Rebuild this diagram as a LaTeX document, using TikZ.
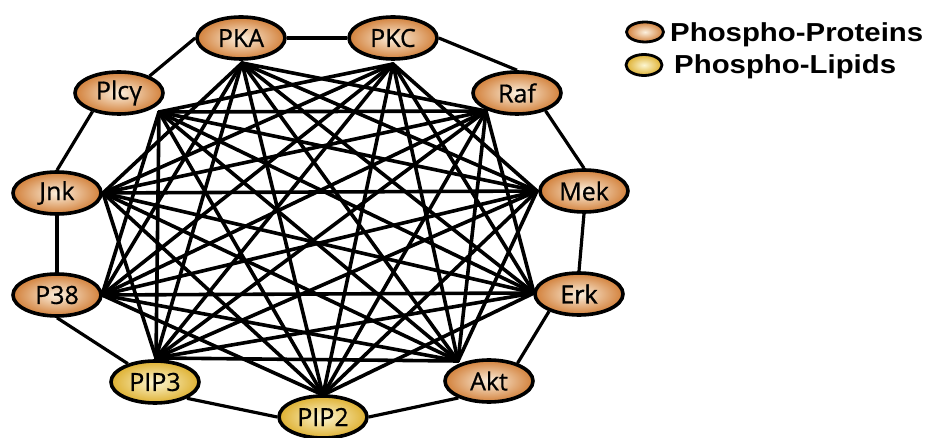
\documentclass[tikz,border=0pt]{standalone}
\usepackage{fontspec}
\usepackage{graphicx}
\usetikzlibrary{shapes.geometric}
\newfontfamily\nodefont[FakeBold=0.7]{Open Sans}
\newfontfamily\nodefontbold[FakeBold=1.6]{Open Sans}
\newfontfamily\legfont{Liberation Sans}
\definecolor{protOut}{RGB}{210,128,58}
\definecolor{protIn}{RGB}{252,240,222}
\definecolor{lipOut}{RGB}{222,176,48}
\definecolor{lipIn}{RGB}{252,246,210}
\pgfdeclarelayer{edges}
\pgfsetlayers{edges,main}
\tikzset{
  molnode/.style={ellipse, draw=black, line width=3.6pt, minimum width=88pt, minimum height=42pt,
    inner sep=0pt, font=\nodefont\fontsize{25}{27}\selectfont},
  prot/.style={molnode, inner color=protIn, outer color=protOut},
  lip/.style={molnode, inner color=lipIn, outer color=lipOut},
  legprot/.style={ellipse, draw=black, line width=2.8pt, minimum width=37pt, minimum height=20pt,
    inner sep=0pt, inner color=protIn, outer color=protOut},
  leglip/.style={ellipse, draw=black, line width=2.8pt, minimum width=36pt, minimum height=21pt,
    inner sep=0pt, inner color=lipIn, outer color=lipOut},
  legtext/.style={anchor=base west, inner sep=0pt, font=\legfont\bfseries\fontsize{26}{28}\selectfont},
  ring/.style={line width=3.2pt, black},
  inner/.style={line width=3.6pt, black, line cap=round},
}
\begin{document}
\begin{tikzpicture}[x=1pt,y=-1pt]
\useasboundingbox (0,0) rectangle (930,438);
% nodes
\node[prot] (pka) at (241,38) {PKA};
\node[prot] (pkc) at (393,38) {PKC};
\node[prot] (raf) at (517,93) {Raf};
\node[prot] (mek) at (584,191) {Mek};
\node[prot, font=\nodefontbold\fontsize{25}{27}\selectfont] (erk) at (579,294) {Erk};
\node[prot] (akt) at (489,381) {Akt};
\node[lip] (pip2) at (323,417) {PIP2};
\node[lip] (pip3) at (155,382) {PIP3};
\node[prot] (p38) at (57,295) {P38};
\node[prot] (jnk) at (57,193) {Jnk};
\node[prot] (plc) at (119,93) {Plcγ};
% hubs where the inner connectors meet
\coordinate (hpka) at (242,63);
\coordinate (hpkc) at (393,64);
\coordinate (hraf) at (486,111);
\coordinate (hmek) at (537,191);
\coordinate (herk) at (534,293);
\coordinate (hakt) at (458,361);
\coordinate (hpip2) at (323,395);
\coordinate (hpip3) at (156,358);
\coordinate (hp38) at (102,295);
\coordinate (hjnk) at (103,193);
\coordinate (hplc) at (159,112);
\begin{pgfonlayer}{edges}
% ring connectors
\draw[ring] (pka.east) -- (pkc.west);
\draw[ring] (pkc.east) -- (raf.north);
\draw[ring] (raf.-32) -- (mek.north);
\draw[ring] (mek.south) -- (erk.north);
\draw[ring] (erk.-150) -- (akt.32);
\draw[ring] (akt.-151) -- (pip2.east);
\draw[ring] (pip2.west) -- (pip3.-27);
\draw[ring] (pip3.146) -- (p38.south);
\draw[ring] (p38.north) -- (jnk.south);
\draw[ring] (jnk.north) -- (plc.-145);
\draw[ring] (plc.29) -- (pka.west);
% inner connectors: every pair that is not adjacent on the ring
\foreach \a [count=\i] in {pka,pkc,raf,mek,erk,akt,pip2,pip3,p38,jnk,plc}{
  \foreach \b [count=\j] in {pka,pkc,raf,mek,erk,akt,pip2,pip3,p38,jnk,plc}{
    \pgfmathtruncatemacro\d{\j-\i}
    \ifnum\d>1 \ifnum\d<10 \draw[inner] (h\a) -- (h\b); \fi\fi
  }
}
\end{pgfonlayer}
% legend
\node[legprot] (lp) at (645,32) {};
\node[leglip] (ll) at (644,65) {};
\node[legtext] (lpt) at (670,42) {\scalebox{1.13}[1]{Phospho-Proteins}};
\node[legtext] (llt) at (674,74) {\scalebox{1.13}[1]{Phospho-Lipids}};
\end{tikzpicture}
\end{document}
